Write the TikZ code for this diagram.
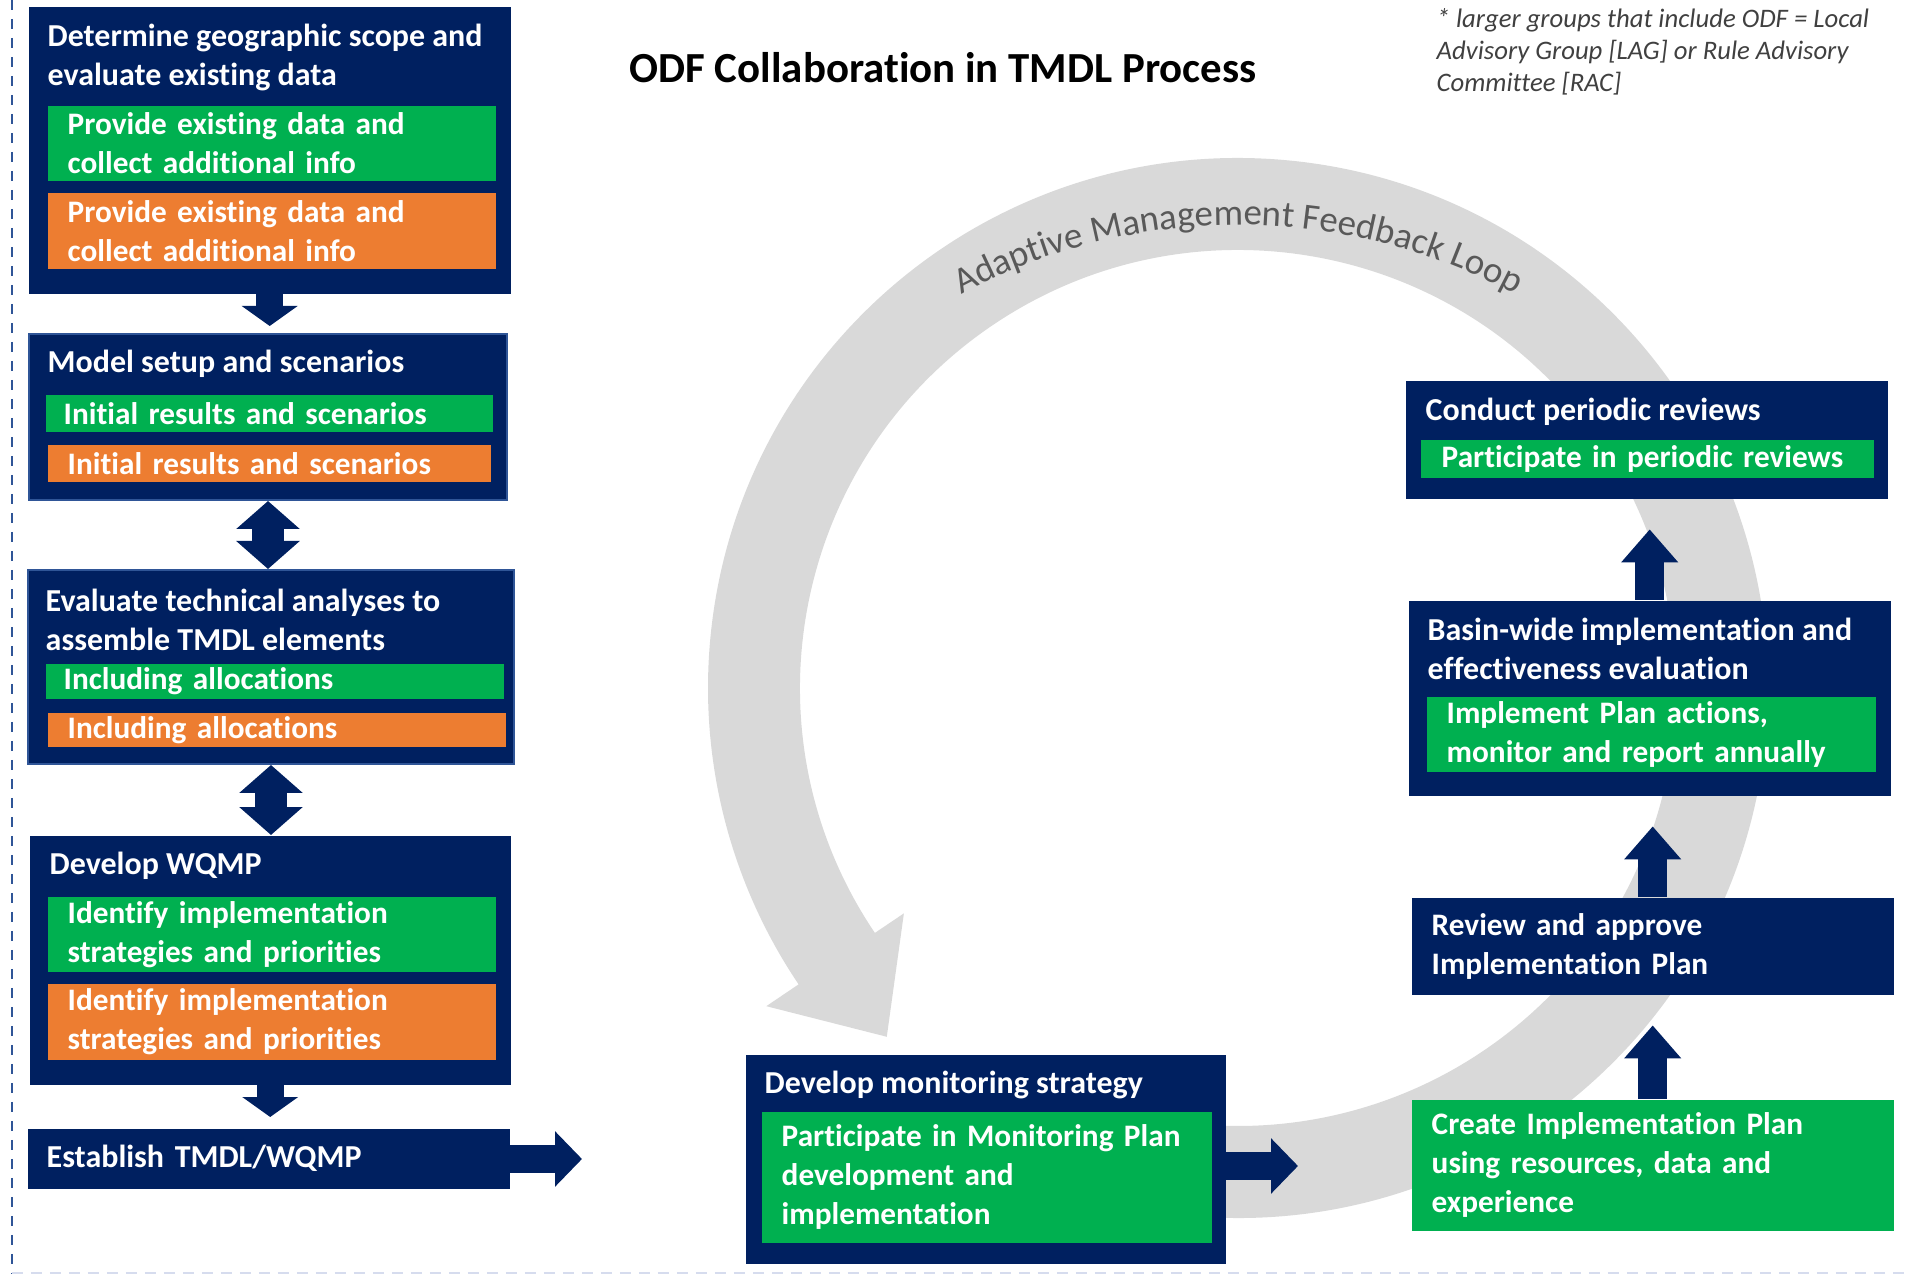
\documentclass[tikz,border=0pt]{standalone}
\usepackage{fontspec}
\setmainfont{Carlito}[Ligatures=NoCommon]
\usetikzlibrary{arrows.meta,decorations.text}

\definecolor{navy}{HTML}{002060}
\definecolor{edge}{HTML}{2F5597}
\definecolor{odfgreen}{HTML}{00B050}
\definecolor{lagorange}{HTML}{ED7D31}
\definecolor{loopgray}{HTML}{D9D9D9}
\definecolor{loopink}{HTML}{595959}
\definecolor{noteink}{HTML}{404040}
\definecolor{dashpale}{HTML}{D6DCEE}
\newcommand\headfont{\fontsize{9.1}{11.1}\selectfont\bfseries}
\newcommand\boxfont{\fontsize{8.9}{11.1}\selectfont\bfseries}
\newcommand\loopfont{\fontsize{10.5}{12}\selectfont}

\begin{document}
\begin{tikzpicture}[
    x=0.1mm, y=0.1mm,
    panel/.style={fill=navy, anchor=north west, inner sep=0pt},
    edged/.style={draw=edge, line width=0.2mm},
    heading/.style={anchor=west, align=left, inner sep=0pt, text=white, font=\headfont},
    subbox/.style={anchor=north west, align=left, inner xsep=2mm, inner ysep=0pt,
        text=white, font=\boxfont},
    odf/.style={subbox, fill=odfgreen},
    lag/.style={subbox, fill=lagorange},
    flow/.style={navy, line width=2.7mm, -{Triangle[width=5.5mm,length=2mm]}},
    twoway/.style={navy, line width=3.2mm,
        {Triangle[width=6.2mm,length=2.8mm]}-{Triangle[width=6.2mm,length=2.8mm]}},
    rise/.style={navy, line width=2.9mm, -{Triangle[width=5.5mm,length=3.3mm]},
        shorten >=3mm},
    % debug: \draw[help lines, step=100] (0,0) grid (1908,-1275);
    ]
    \useasboundingbox (0,0) rectangle (1908,-1275);
    \draw [edge, line width=0.25mm, dash pattern=on 1mm off 0.9mm] (12,0) -- (12,-1273);
    \draw [dashpale, line width=0.25mm, dash pattern=on 1.1mm off 0.8mm] (12,-1273) -- (1908,-1273);

    % feedback loop
    \begin{scope}[shift={(1238,-688)}]
        \fill [loopgray] (-95:530) arc[start angle=-95, end angle=214, radius=530]
            -- (214:569) -- (224.8:495) -- (214:403)
            -- (214:438) arc[start angle=214, end angle=-95, radius=438] -- cycle;
    \end{scope}
    \begin{scope}[shift={(1238,-813)}]
        \path [decorate, decoration={text along path, text align=center,
            text color=loopink, text={|\loopfont|Adaptive Management Feedback Loop}}]
            (134:588) arc[start angle=134, end angle=46, radius=588];
    \end{scope}

    \node [at={(943,-68)}, font=\fontsize{12.2}{14}\selectfont\bfseries, name=title]
        {ODF Collaboration in TMDL Process};
    \node [at={(1436,-52)}, anchor=west, align=left, inner sep=0pt, text=noteink,
        font=\fontsize{7.6}{9.2}\selectfont\itshape, name=note]
        {* larger groups that include ODF = Local\\Advisory Group [LAG] or Rule Advisory\\Committee [RAC]};

    % left column
    \node [panel, at={(28,-6)}, minimum width=48.2mm, minimum height=28.7mm, name=a1] {};
    \node [heading, at={(47,-57)}] {Determine geographic scope and\\evaluate existing data};
    \node [odf, at={(47,-105)}, text width=40.8mm, minimum height=7.5mm, name=a1g]
        {Provide existing data and\\collect additional info};
    \node [lag, at={(47,-192)}, text width=40.8mm, minimum height=7.6mm, name=a1o]
        {Provide existing data and\\collect additional info};

    \node [panel, edged, at={(28,-333)}, minimum width=47.8mm, minimum height=16.6mm, name=a2] {};
    \node [heading, at={(47,-364)}] {Model setup and scenarios};
    \node [odf, at={(45,-394)}, inner xsep=1.8mm, text width=41.1mm, minimum height=3.7mm, name=a2g]
        {Initial results and scenarios};
    \node [lag, at={(47,-444)}, text width=40.3mm, minimum height=3.7mm, name=a2o]
        {Initial results and scenarios};

    \node [panel, edged, at={(27,-569)}, minimum width=48.6mm, minimum height=19.4mm, name=a3] {};
    \node [heading, at={(45,-620)}] {Evaluate technical analyses to\\assemble TMDL elements};
    \node [odf, at={(45,-663)}, inner xsep=1.8mm, text width=42.2mm, minimum height=3.5mm, name=a3g]
        {Including allocations};
    \node [lag, at={(47,-712)}, text width=41.8mm, minimum height=3.4mm, name=a3o]
        {Including allocations};

    \node [panel, at={(29,-835)}, minimum width=48.1mm, minimum height=24.9mm, name=a4] {};
    \node [heading, at={(49,-866)}] {Develop WQMP};
    \node [odf, at={(47,-896)}, text width=40.8mm, minimum height=7.5mm, name=a4g]
        {Identify implementation\\strategies and priorities};
    \node [lag, at={(47,-983)}, text width=40.8mm, minimum height=7.6mm, name=a4o]
        {Identify implementation\\strategies and priorities};

    \node [panel, at={(27,-1128)}, inner xsep=1.9mm, text width=44.4mm, minimum height=6mm,
        align=left, text=white, font=\headfont, name=a5] {Establish TMDL/WQMP};

    % monitoring
    \node [panel, at={(745,-1054)}, minimum width=48mm, minimum height=20.9mm, name=b1] {};
    \node [heading, at={(764,-1085)}] {Develop monitoring strategy};
    \node [odf, at={(761,-1111)}, text width=41mm, minimum height=13.1mm, name=b1g]
        {Participate in Monitoring Plan\\development and\\implementation};

    % right column
    \node [panel, at={(1405,-380)}, minimum width=48.2mm, minimum height=11.8mm, name=c1] {};
    \node [heading, at={(1425,-412)}] {Conduct periodic reviews};
    \node [odf, at={(1420,-439)}, inner xsep=2.1mm, text width=41.1mm, minimum height=3.8mm, name=c1g]
        {Participate in periodic reviews};

    \node [panel, at={(1408,-600)}, minimum width=48.2mm, minimum height=19.5mm, name=c2] {};
    \node [heading, at={(1427,-649)}] {Basin-wide implementation and\\effectiveness evaluation};
    \node [odf, at={(1426,-696)}, text width=40.9mm, minimum height=7.5mm, name=c2g]
        {Implement Plan actions,\\monitor and report annually};

    \node [panel, at={(1411,-897)}, inner xsep=2mm, text width=44.2mm, minimum height=9.7mm,
        align=left, text=white, font=\boxfont, name=c3] {Review and approve\\Implementation Plan};
    \node [odf, at={(1411,-1099)}, text width=44.2mm, minimum height=13.1mm, name=c4]
        {Create Implementation Plan\\using resources, data and\\experience};

    % connectors
    \coordinate (est) at (582,-1159);
    \coordinate (loopin) at (1298,-1166);
    \draw [flow, shorten >=0.7mm] (a1.south) -- (a1.south |- a2.north);
    \draw [twoway] (a2.south) -- (a2.south |- a3.north);
    \draw [twoway] (a3.south) -- (a3.south |- a4.north);
    \draw [flow, shorten >=1.1mm] (a4.south) -- (a4.south |- a5.north);
    \draw [flow, line width=2.8mm, -{Triangle[width=5.4mm,length=2.7mm]}] (a5.east |- est) -- (est);
    \draw [flow, line width=2.8mm, -{Triangle[width=5.4mm,length=2.7mm]}] (b1.east |- loopin) -- (loopin);
    \draw [rise] (c4.north) -- (c4.north |- c3.south);
    \draw [rise] (c3.north) -- (c3.north |- c2.south);
    \draw [rise] (c2.north) -- (c2.north |- c1.south);
\end{tikzpicture}
\end{document}
